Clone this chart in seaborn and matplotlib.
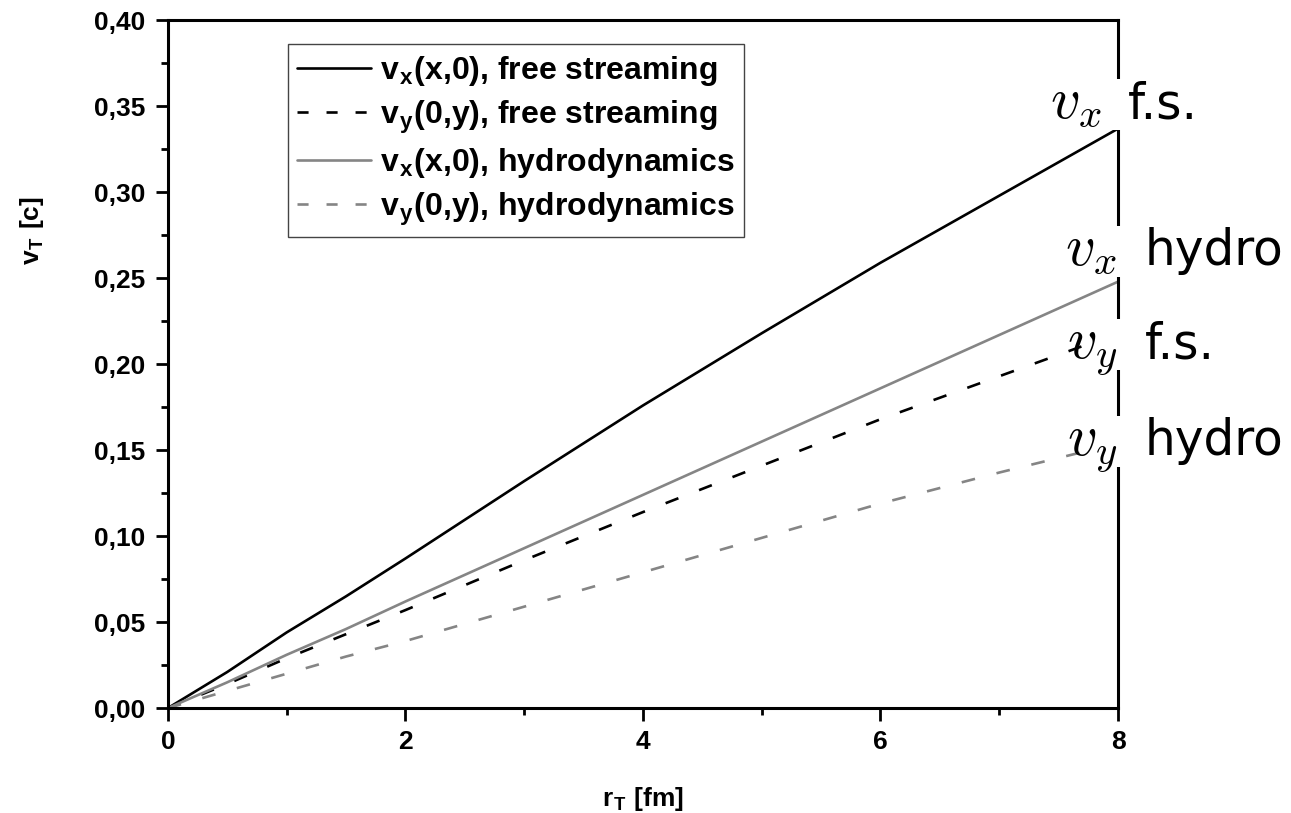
import numpy as np
import pandas as pd
import matplotlib
matplotlib.use("Agg")
import matplotlib.pyplot as plt
import seaborn as sns
from matplotlib.ticker import MultipleLocator, FuncFormatter

# ---- data ----
r_T = [0, 0.5, 1, 1.5, 2, 3, 4, 5, 6, 7, 8]
vx_free = [0, 0.021, 0.044, 0.065, 0.087, 0.132, 0.176, 0.218, 0.259, 0.298, 0.337]
vy_free = [0, 0.014, 0.029, 0.043, 0.057, 0.086, 0.114, 0.141, 0.168, 0.193, 0.218]
vx_hydro = [0, 0.015, 0.031, 0.046, 0.062, 0.093, 0.124, 0.155, 0.186, 0.217, 0.248]
vy_hydro = [0, 0.010, 0.020, 0.030, 0.039, 0.059, 0.079, 0.099, 0.119, 0.137, 0.154]

series_labels = [
    r"v$_\mathregular{x}$(x,0), free streaming",
    r"v$_\mathregular{y}$(0,y), free streaming",
    r"v$_\mathregular{x}$(x,0), hydrodynamics",
    r"v$_\mathregular{y}$(0,y), hydrodynamics",
]
end_math = [r"$v_x$", r"$v_x$", r"$v_y$", r"$v_y$"]
end_text = ["f.s.", "hydro", "f.s.", "hydro"]
end_y = [0.343, 0.2576, 0.2035, 0.147]

x_ticks = [0, 2, 4, 6, 8]
y_ticks = [0.00, 0.05, 0.10, 0.15, 0.20, 0.25, 0.30, 0.35, 0.40]

sns.set_style("ticks")
plt.rcParams["font.family"] = ["Liberation Sans", "DejaVu Sans"]
plt.rcParams["mathtext.fontset"] = "cm"
for k in ("text.color", "axes.labelcolor", "xtick.color", "ytick.color"):
    plt.rcParams[k] = "black"

fig = plt.figure(figsize=(12.91, 8.13), dpi=100)
ax = fig.add_axes([0.130, 0.129, 0.736, 0.846])

dash = (0, (5.2, 8.4))
styles = [("black", "-"), ("black", dash), ("#858585", "-"), ("#858585", dash)]
all_y = [vx_free, vy_free, vx_hydro, vy_hydro]
for yv, lab, (c, ls) in zip(all_y, series_labels, styles):
    df = pd.DataFrame({"r": r_T, "v": yv})
    sns.lineplot(data=df, x="r", y="v", ax=ax, color=c, linestyle=ls,
                 linewidth=1.9, label=lab, legend=False)

ax.set_xlim(0, 8)
ax.set_ylim(0, 0.40)
ax.set_xticks(x_ticks)
ax.set_yticks(y_ticks)
ax.xaxis.set_minor_locator(MultipleLocator(1))
ax.yaxis.set_minor_locator(MultipleLocator(0.025))
ax.yaxis.set_major_formatter(FuncFormatter(lambda v, p: f"{v:.2f}".replace(".", ",")))
ax.xaxis.set_major_formatter(FuncFormatter(lambda v, p: f"{v:g}"))

for s in ax.spines.values():
    s.set_linewidth(2.2)
    s.set_color("black")
ax.tick_params(which="major", direction="out", length=9, width=2, labelsize=19, pad=7,
               colors="black")
ax.tick_params(which="minor", direction="out", length=5, width=2, colors="black")
for t in ax.get_xticklabels() + ax.get_yticklabels():
    t.set_fontweight("bold")

ax.set_xlabel(r"r$_\mathregular{T}$ [fm]", fontsize=19, fontweight="bold", labelpad=22)
ax.set_ylabel(r"v$_\mathregular{T}$ [c]", fontsize=19, fontweight="bold")
ax.yaxis.set_label_coords(-0.128, 0.695)

leg = ax.legend(loc="upper left", bbox_to_anchor=(0.126, 0.965),
                prop={"size": 23, "weight": "bold"},
                frameon=True, fancybox=False, edgecolor="#444444",
                handlelength=2.3, handletextpad=0.3, labelspacing=0.32,
                borderpad=0.3, borderaxespad=0, labelcolor="black")
leg.get_frame().set_linewidth(1.0)
leg.get_frame().set_alpha(1)
for i, ln in enumerate(leg.get_lines()):
    if i in (1, 3):
        ln.set_linestyle((0, (4.2, 6.8)))

# end labels on the right edge, covering the right spine
for i, (m, t, yv) in enumerate(zip(end_math, end_text, end_y)):
    right_off = -16 if i == 0 else -1
    ax.annotate(m, xy=(1, yv), xycoords=("axes fraction", "data"),
                xytext=(right_off, 0), textcoords="offset pixels",
                ha="right", va="baseline", fontsize=42, clip_on=False,
                annotation_clip=False, zorder=6, color="black")
    left_off = 10 if i == 0 else 27
    ax.annotate(t, xy=(1, yv), xycoords=("axes fraction", "data"),
                xytext=(left_off, 0), textcoords="offset pixels",
                ha="left", va="baseline", fontsize=35, family="DejaVu Sans",
                clip_on=False, annotation_clip=False, zorder=6, color="black",
                bbox=dict(boxstyle="square,pad=0.03", fc="white", ec="none"))
    ax.annotate("   ", xy=(1, yv), xycoords=("axes fraction", "data"),
                xytext=(left_off, 0), textcoords="offset pixels",
                ha="right", va="baseline", fontsize=35, family="DejaVu Sans",
                clip_on=False, annotation_clip=False, zorder=5,
                bbox=dict(boxstyle="square,pad=0.03", fc="white", ec="none"))

fig.savefig("out.png", dpi=100)
